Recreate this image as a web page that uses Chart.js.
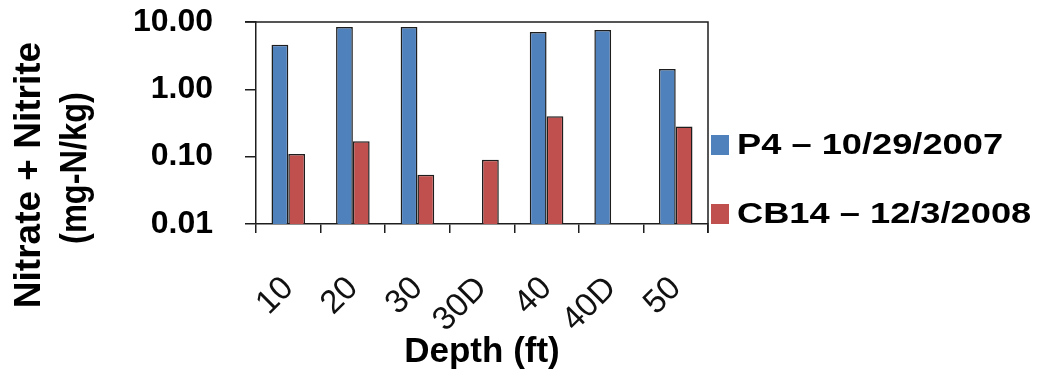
<!DOCTYPE html>
<html>
<head>
<meta charset="utf-8">
<script src="https://cdn.jsdelivr.net/npm/chart.js@4/dist/chart.umd.min.js"></script>
<style>
  html, body { margin: 0; padding: 0; background: #fff; }
  canvas { display: block; }
</style>
</head>
<body>
<canvas id="chart" width="1038" height="379"></canvas>
<script>
const depths = ['10', '20', '30', '30D', '40', '40D', '50'];
const p4Values = [4.6, 8.4, 8.4, null, 7.1, 7.6, 2.0];
const cb14Values = [0.11, 0.17, 0.054, 0.09, 0.40, null, 0.28];
const seriesLabels = ['P4 – 10/29/2007', 'CB14 – 12/3/2008'];
const seriesColors = ['#4f81bd', '#c0504d'];
const yTickValues = [0.01, 0.1, 1, 10];
const yTitleLines = ['Nitrate + Nitrite', '(mg-N/kg)'];
const xTitle = 'Depth (ft)';

const AXIS = '#1e1e1e';
const FONT = '"Liberation Sans", Arial, sans-serif';

// box round the plot area (top and right edges)
const framePlugin = {
  id: 'frame',
  afterDraw(chart) {
    const { ctx, chartArea: a } = chart;
    ctx.save();
    ctx.strokeStyle = AXIS;
    ctx.lineWidth = 1.5;
    ctx.beginPath();
    ctx.moveTo(a.left - 11, a.top);
    ctx.lineTo(a.right, a.top);
    ctx.lineTo(a.right, a.bottom + 9);
    ctx.stroke();
    ctx.restore();
  }
};

// two-line rotated y title, sits lower than the plot centre
const yTitlePlugin = {
  id: 'yTitle',
  afterDraw(chart) {
    const { ctx } = chart;
    ctx.save();
    ctx.fillStyle = '#000';
    ctx.textAlign = 'center';
    ctx.textBaseline = 'alphabetic';

    ctx.save();
    ctx.translate(40, 175);
    ctx.rotate(-Math.PI / 2);
    ctx.font = `bold 37px ${FONT}`;
    ctx.fillText(yTitleLines[0], 0, 0);
    ctx.restore();

    ctx.save();
    ctx.translate(86, 168);
    ctx.rotate(-Math.PI / 2);
    ctx.scale(0.88, 1);
    ctx.font = `bold 37px ${FONT}`;
    ctx.fillText(yTitleLines[1], 0, 0);
    ctx.restore();

    ctx.restore();
  }
};

// legend on the right, boxes touching the plot edge
const legendPlugin = {
  id: 'sideLegend',
  afterDraw(chart) {
    const { ctx, chartArea: a } = chart;
    const rows = [145, 214];
    ctx.save();
    chart.data.datasets.forEach((ds, i) => {
      const cy = rows[i];
      ctx.fillStyle = ds.backgroundColor;
      ctx.fillRect(a.right + 3, cy - 10, 18, 20);
      ctx.save();
      ctx.translate(a.right + 29, cy);
      ctx.scale(1.25, 1);
      ctx.fillStyle = '#000';
      ctx.font = `bold 29px ${FONT}`;
      ctx.textAlign = 'left';
      ctx.textBaseline = 'middle';
      ctx.fillText(ds.label, 0, 1);
      ctx.restore();
    });
    ctx.restore();
  }
};

new Chart(document.getElementById('chart'), {
  type: 'bar',
  data: {
    labels: depths,
    datasets: [
      {
        label: seriesLabels[0],
        data: p4Values,
        backgroundColor: seriesColors[0],
        borderColor: AXIS,
        borderWidth: 1.5,
        categoryPercentage: 0.52,
        barPercentage: 1.0,
      },
      {
        label: seriesLabels[1],
        data: cb14Values,
        backgroundColor: seriesColors[1],
        borderColor: AXIS,
        borderWidth: 1.5,
        categoryPercentage: 0.52,
        barPercentage: 1.0,
      }
    ]
  },
  options: {
    responsive: false,
    animation: false,
    devicePixelRatio: 1,
    layout: { padding: { top: 22, right: 330, left: 0, bottom: 0 } },
    plugins: {
      legend: { display: false },
      tooltip: { enabled: false }
    },
    scales: {
      x: {
        afterFit(scale) {
          scale.height = 155;
          scale.paddingLeft = 0;
          scale.paddingRight = 0;
        },
        grid: {
          offset: true,
          drawOnChartArea: false,
          drawTicks: true,
          tickLength: 9,
          color: AXIS,
          lineWidth: 1.5,
        },
        border: { color: AXIS, width: 1.5 },
        ticks: {
          autoSkip: false,
          minRotation: 45,
          maxRotation: 45,
          padding: 36,
          color: '#111',
          font: { family: FONT, size: 33 }
        },
        title: {
          display: true,
          text: xTitle,
          color: '#000',
          font: { family: FONT, size: 35, weight: 'bold' },
          padding: { top: 0, bottom: 6 }
        }
      },
      y: {
        type: 'logarithmic',
        min: 0.01,
        max: 10,
        afterFit(scale) {
          scale.width = 256;
          scale.paddingTop = 0;
          scale.paddingBottom = 0;
        },
        afterBuildTicks(scale) {
          scale.ticks = yTickValues.map(v => ({ value: v }));
        },
        grid: {
          drawOnChartArea: false,
          drawTicks: true,
          tickLength: 11,
          color: AXIS,
          lineWidth: 1.5,
        },
        border: { color: AXIS, width: 1.5 },
        ticks: {
          padding: 32,
          color: '#000',
          font: { family: FONT, size: 32, weight: 'bold' },
          callback: v => Number(v).toFixed(2)
        }
      }
    }
  },
  plugins: [framePlugin, yTitlePlugin, legendPlugin]
});
</script>
</body>
</html>
